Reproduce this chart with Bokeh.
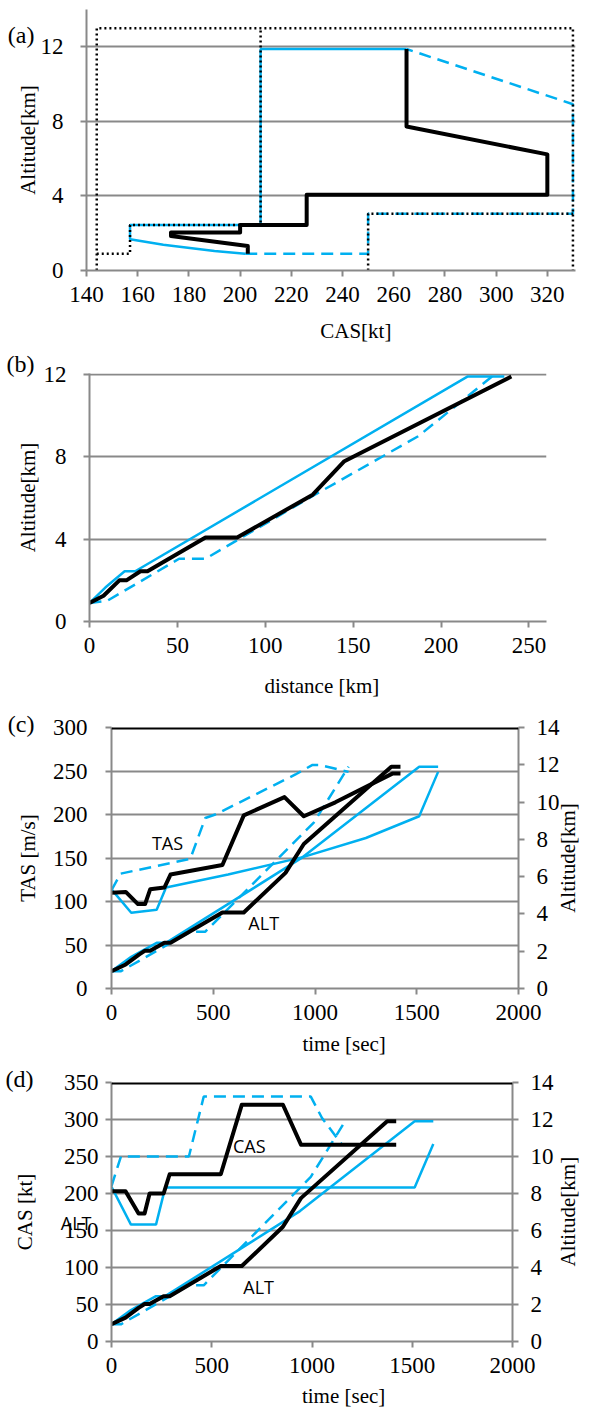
import math
from bokeh.plotting import figure
from bokeh.models import Range1d, LinearAxis, FixedTicker, Span, Label
from bokeh.embed import file_html
from bokeh.resources import INLINE

BLUE = "#00B0F0"
GRID = "#898989"
SERIF = "Liberation Serif"
SANS = "Open Sans"

# ---------------- data ----------------
# (a) CAS [kt] vs Altitude [km]
a_black_cas = [203, 203, 173, 173, 200, 200, 226, 226, 320, 320, 265, 265]
a_black_alt = [0.9, 1.31, 1.85, 2.04, 2.04, 2.44, 2.44, 4.06, 4.06, 6.23, 7.72, 11.88]
a_blue_cas = [202, 190, 170, 157, 157, 208, 208, 265]
a_blue_alt = [0.9, 1.05, 1.38, 1.68, 2.44, 2.44, 11.88, 11.88]
a_dash_cas = [202, 250, 250, 330, 330, 265]
a_dash_alt = [0.9, 0.9, 3.04, 3.04, 8.92, 11.88]
a_env1_cas = [144, 144, 330, 330]
a_env1_alt = [0, 13, 13, 0]
a_env2_cas = [144, 157, 157, 208, 208]
a_env2_alt = [0.9, 0.9, 2.44, 2.44, 13]
a_env3_cas = [250, 250, 330]
a_env3_alt = [0, 3.04, 3.04]
a_xticks = [140, 160, 180, 200, 220, 240, 260, 280, 300, 320]
a_yticks = [0, 4, 8, 12]

# (b) distance [km] vs Altitude [km]
b_black_d = [0, 8, 17, 21, 29, 33, 66, 84, 127, 145, 240]
b_black_alt = [0.9, 1.25, 2.0, 2.0, 2.44, 2.44, 4.08, 4.08, 6.16, 7.79, 11.9]
b_blue_d = [0, 9, 20, 26, 215, 236]
b_blue_alt = [0.9, 1.65, 2.44, 2.44, 11.9, 11.9]
b_dash_d = [0, 10, 51, 66, 127, 187, 229]
b_dash_alt = [0.9, 1.0, 3.05, 3.05, 6.1, 9.0, 11.9]
b_xticks = [0, 50, 100, 150, 200, 250]
b_yticks = [0, 4, 8, 12]

# (c),(d) time [sec]; altitude [km] (shared)
alt_black_t = [0, 70, 135, 165, 190, 260, 290, 545, 650, 855, 945, 1375, 1420]
alt_black = [0.93, 1.29, 1.82, 2.03, 2.03, 2.45, 2.45, 4.08, 4.08, 6.2, 7.75, 11.9, 11.9]
alt_blue_t = [0, 97, 222, 268, 700, 940, 1512, 1605]
alt_blue = [0.93, 1.7, 2.45, 2.45, 5.4, 7.05, 11.9, 11.9]
alt_dash_t = [0, 47, 386, 460, 994, 1165]
alt_dash = [0.93, 0.93, 3.04, 3.04, 8.9, 11.9]

# (c) TAS [m/s]
tas_black_t = [0, 70, 130, 165, 190, 260, 290, 545, 650, 850, 945, 1100, 1380, 1420]
tas_black = [110, 111, 97, 97, 114, 116, 131, 142, 199, 220, 198, 214, 247, 247]
tas_blue_t = [0, 97, 222, 268, 573, 940, 1250, 1512, 1605]
tas_blue = [114, 87, 90.5, 116, 131, 151, 173, 198, 249]
tas_dash_t = [0, 45, 387, 461, 510, 904, 988, 1021, 1165]
tas_dash = [113, 132, 149, 196, 200, 246, 257, 257, 249]

# (d) CAS [kt]
cas_black_t = [0, 70, 135, 165, 190, 260, 290, 545, 650, 855, 945, 1420]
cas_black = [203, 203, 173, 173, 200, 200, 226, 226, 320, 320, 266, 266]
cas_blue_t = [0, 97, 222, 268, 1512, 1605]
cas_blue = [209, 158, 158, 208, 208, 267]
cas_dash_t = [0, 47, 386, 460, 994, 1050, 1150]
cas_dash = [210, 250, 250, 331, 331, 302, 266]

t_ticks = [0, 500, 1000, 1500, 2000]
tas_ticks = [0, 50, 100, 150, 200, 250, 300]
cas_ticks = [0, 50, 100, 150, 200, 250, 300, 350]
km_ticks = [0, 2, 4, 6, 8, 10, 12, 14]


# ---------------- helpers ----------------
def make_fig(h, xr, yr, left, right, top, bottom):
    p = figure(width=595, height=h, x_range=Range1d(*xr), y_range=Range1d(*yr),
               output_backend="svg", toolbar_location=None,
               min_border_left=left, min_border_right=right,
               min_border_top=top, min_border_bottom=bottom)
    p.outline_line_color = None
    p.background_fill_color = "white"
    p.border_fill_color = "white"
    p.xgrid.visible = False
    return p


def style_axis(ax, ticks, label, lab_standoff, title_standoff):
    ax.ticker = FixedTicker(ticks=ticks)
    ax.axis_label = label
    ax.axis_line_color = GRID
    ax.axis_line_width = 2
    ax.major_tick_line_color = GRID
    ax.major_tick_line_width = 2
    ax.major_tick_out = 6
    ax.major_tick_in = 0
    ax.minor_tick_line_color = None
    ax.major_label_text_font = SERIF
    ax.major_label_text_font_size = "23px"
    ax.major_label_text_color = "black"
    ax.major_label_standoff = lab_standoff
    ax.axis_label_text_font = SERIF
    ax.axis_label_text_font_size = "21px"
    ax.axis_label_text_font_style = "normal"
    ax.axis_label_text_color = "black"
    ax.axis_label_standoff = title_standoff


def text_axis(p, side, pos, text, standoff, font=SERIF, size="21px", orientation="horizontal"):
    """A bare extra axis in a side panel whose only tick label is the given text."""
    ax = LinearAxis()
    ax.ticker = FixedTicker(ticks=[pos])
    d = 1e-3 * (abs(pos) + 1)
    ax.bounds = (pos - d, pos + d)
    ax.major_label_overrides = {pos: text}
    ax.axis_line_color = None
    ax.major_tick_line_color = None
    ax.minor_tick_line_color = None
    ax.major_tick_out = 0
    ax.major_tick_in = 0
    ax.major_label_standoff = standoff
    ax.major_label_orientation = orientation
    ax.major_label_text_font = font
    ax.major_label_text_font_size = size
    ax.major_label_text_color = "black"
    p.add_layout(ax, side)


def style_ygrid(p, ticks):
    p.ygrid.ticker = FixedTicker(ticks=ticks)
    p.ygrid.grid_line_color = GRID
    p.ygrid.grid_line_width = 2


def note(p, x, y, text):
    p.add_layout(Label(x=x, y=y, text=text, text_font=SANS, text_font_size="18px",
                       text_align="center", text_baseline="middle", text_color="black"))


def right_axis(p):
    ax = LinearAxis(y_range_name="alt")
    style_axis(ax, km_ticks, None, 12, 0)
    p.add_layout(ax, "right")


# ---------------- (a) ----------------
pa = make_fig(345, (140, 331), (0, 14), 86, 20, 9, 70)
style_axis(pa.xaxis[0], a_xticks, None, 10, 0)
style_axis(pa.yaxis[0], a_yticks, "Altitude[km]", 17, -2)
style_ygrid(pa, [4, 8, 12])
pa.line(a_blue_cas, a_blue_alt, line_color=BLUE, line_width=2.5)
pa.line(a_dash_cas, a_dash_alt, line_color=BLUE, line_width=2.5, line_dash="12 7")
for xs, ys in [(a_env1_cas, a_env1_alt), (a_env2_cas, a_env2_alt), (a_env3_cas, a_env3_alt)]:
    pa.line(xs, ys, line_color="black", line_width=2.5, line_dash="2 3")
pa.line(a_black_cas, a_black_alt, line_color="black", line_width=4, line_join="round")
text_axis(pa, "below", 245.2, "CAS[kt]", 14)
text_axis(pa, "left", 12.63, "(a)", -22, size="24px")

# ---------------- (b) ----------------
pb = make_fig(355, (0, 260), (0, 12.05), 89, 49, 28, 75)
style_axis(pb.xaxis[0], b_xticks, None, 10, 0)
style_axis(pb.yaxis[0], b_yticks, "Altitude[km]", 17, 1)
style_ygrid(pb, [4, 8, 12])
pb.line(b_blue_d, b_blue_alt, line_color=BLUE, line_width=2.5)
pb.line(b_dash_d, b_dash_alt, line_color=BLUE, line_width=2.5, line_dash="12 7")
pb.line(b_black_d, b_black_alt, line_color="black", line_width=4, line_join="round")
text_axis(pb, "below", 132.2, "distance [km]", 18)
text_axis(pb, "left", 11.74, "(b)\n ", -22, size="24px")

# ---------------- (c) ----------------
pc = make_fig(360, (0, 2000), (0, 300), 111, 73, 27, 72)
pc.extra_y_ranges = {"alt": Range1d(0, 14)}
style_axis(pc.xaxis[0], t_ticks, None, 10, 0)
style_axis(pc.yaxis[0], tas_ticks, "TAS [m/s]", 18, 10)
right_axis(pc)
style_ygrid(pc, [50, 100, 150, 200, 250])
pc.add_layout(Span(location=300, dimension="width", line_color="black", line_width=4))
pc.line(tas_blue_t, tas_blue, line_color=BLUE, line_width=2.5)
pc.line(tas_dash_t, tas_dash, line_color=BLUE, line_width=2.5, line_dash="12 7")
pc.line(alt_blue_t, alt_blue, line_color=BLUE, line_width=2.5, y_range_name="alt")
pc.line(alt_dash_t, alt_dash, line_color=BLUE, line_width=2.5, line_dash="12 7", y_range_name="alt")
pc.line(tas_black_t, tas_black, line_color="black", line_width=4, line_join="round")
pc.line(alt_black_t, alt_black, line_color="black", line_width=4, line_join="round", y_range_name="alt")
note(pc, 275, 167.6, "TAS")
note(pc, 748, 75.5, "ALT")
text_axis(pc, "below", 1143, "time [sec]", 9)
text_axis(pc, "left", 285.7, "(c)\n ", -22, size="24px")
text_axis(pc, "right", 87.0, "Altitude[km]", 6, orientation=math.pi / 2)

# ---------------- (d) ----------------
pd_ = make_fig(350, (0, 2000), (0, 350), 111, 79, 22, 67)
pd_.extra_y_ranges = {"alt": Range1d(0, 14)}
style_axis(pd_.xaxis[0], t_ticks, None, 10, 0)
style_axis(pd_.yaxis[0], cas_ticks, "CAS [kt]", 7, 24)
right_axis(pd_)
style_ygrid(pd_, [50, 100, 150, 200, 250, 300])
pd_.add_layout(Span(location=350, dimension="width", line_color="black", line_width=4))
pd_.line(cas_blue_t, cas_blue, line_color=BLUE, line_width=2.5)
pd_.line(cas_dash_t, cas_dash, line_color=BLUE, line_width=2.5, line_dash="12 7")
pd_.line(alt_blue_t, alt_blue, line_color=BLUE, line_width=2.5, y_range_name="alt")
pd_.line(alt_dash_t, alt_dash, line_color=BLUE, line_width=2.5, line_dash="12 7", y_range_name="alt")
pd_.line(cas_black_t, cas_black, line_color="black", line_width=4, line_join="round")
pd_.line(alt_black_t, alt_black, line_color="black", line_width=4, line_join="round", y_range_name="alt")
note(pd_, 687, 264, "CAS")
note(pd_, 734, 73, "ALT")
text_axis(pd_, "below", 1157.5, "time [sec]", 8)
text_axis(pd_, "left", 333.4, "(d)\n ", -24, size="24px")
text_axis(pd_, "left", 160.5, "ALT", -89, font=SANS, size="18px")
text_axis(pd_, "right", 101.4, "Altitude[km]", 12, orientation=math.pi / 2)

open("out.html", "w").write(file_html([pa, pb, pc, pd_], INLINE))
